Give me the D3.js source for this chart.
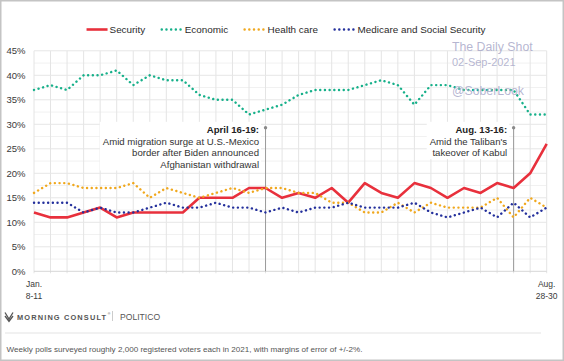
<!DOCTYPE html>
<html>
<head>
<meta charset="utf-8">
<script src="https://cdn.jsdelivr.net/npm/d3@7"></script>
<style>
  html, body { margin: 0; padding: 0; background: #fff; }
  svg { display: block; font-family: "Liberation Sans", Arial, sans-serif; }
</style>
</head>
<body>
<svg id="chart" width="564" height="361"></svg>
<script>
// ---------- data ----------
const weekIndex = d3.range(32); // weekly polls, Jan. 8-11 ... Aug. 28-30
const xTickLabels = [["Jan.", "8-11"], ["Aug.", "28-30"]];
const yTicks = [0, 5, 10, 15, 20, 25, 30, 35, 40, 45];
const seriesNames = ["Security", "Economic", "Health care", "Medicare and Social Security"];
const security = [12,11,11,12,13,11,12,12,12,12,15,15,15,17,17,15,16,15,17,14,18,16,15,18,17,15,17,16,18,17,20,26];
const economic = [37,38,37,40,40,41,38,40,39,39,36,35,35,32,33,34,36,37,37,37,38,39,38,34,38,38,37,37,37,37,32,32];
const healthCare = [16,18,18,17,17,17,18,15,17,16,15,16,17,16,17,17,16,16,14,14,12,12,14,12,14,13,13,13,15,11,15,13];
const medicare = [14,14,14,12,13,12,12,13,14,13,13,14,13,13,12,13,12,13,13,14,13,13,13,14,12,11,12,13,11,14,11,13];
const annotations = [
  { index: 14, head: "April 16-19:", lines: ["Amid migration surge at U.S.-Mexico", "border after Biden announced", "Afghanistan withdrawal"] },
  { index: 29, head: "Aug. 13-16:", lines: ["Amid the Taliban's", "takeover of Kabul"] }
];
const footnote = "Weekly polls surveyed roughly 2,000 registered voters each in 2021, with margins of error of +/-2%.";

// ---------- setup ----------
const W = 564, H = 361;
const svg = d3.select("#chart");
const colors = ["#e8303c", "#17b08a", "#f0a81e", "#24309c"];

// frame
svg.append("rect").attr("x", 0.75).attr("y", 0.75).attr("width", W - 1.5).attr("height", H - 1.5)
  .attr("fill", "#fff").attr("stroke", "#c4c4c4").attr("stroke-width", 1.5);

const x = d3.scaleLinear().domain([0, weekIndex.length - 1]).range([34, 546.7]);
const y = d3.scaleLinear().domain([0, 45]).range([271.3, 50.8]);

// grid
const grid = svg.append("g");
grid.selectAll(".minor").data(d3.range(2.5, 45, 5)).join("line")
  .attr("x1", x(0)).attr("x2", x(31)).attr("y1", d => y(d)).attr("y2", d => y(d))
  .attr("stroke", "#f1f1f1").attr("stroke-width", 1);
grid.selectAll(".v").data(weekIndex).join("line")
  .attr("x1", d => x(d)).attr("x2", d => x(d)).attr("y1", y(45)).attr("y2", y(0) + 2)
  .attr("stroke", "#e4e4e4").attr("stroke-width", 1);
grid.selectAll(".h").data(yTicks).join("line")
  .attr("x1", x(0)).attr("x2", x(31)).attr("y1", d => y(d)).attr("y2", d => y(d))
  .attr("stroke", d => d === 0 ? "#d6d6d6" : "#e6e6e6").attr("stroke-width", 1);

// y axis labels
const yAxis = d3.axisLeft(y).tickValues(yTicks).tickFormat(d => d + "%").tickSize(0).tickPadding(0);
const yg = svg.append("g").attr("transform", "translate(25.5,0)").call(yAxis);
yg.select(".domain").remove();
yg.selectAll("text").attr("font-size", 9.5).attr("fill", "#3a3a3a")
  .attr("font-family", "'Liberation Sans', Arial, sans-serif");

// x labels
const xl = svg.append("g").attr("font-size", 8.5).attr("fill", "#3a3a3a").attr("text-anchor", "middle");
[[0, xTickLabels[0]], [31, xTickLabels[1]]].forEach(([i, lab]) => {
  xl.append("text").attr("x", x(i)).attr("y", 287).text(lab[0]);
  xl.append("text").attr("x", x(i)).attr("y", 298.5).text(lab[1]);
});

// annotations
annotations.forEach(a => {
  const ax = x(a.index);
  const g = svg.append("g");
  const right = ax - 6.5;
  const tg = g.append("g").attr("font-size", 9.6).attr("fill", "#333").attr("text-anchor", "end");
  tg.append("text").attr("x", right).attr("y", 132.8).attr("font-weight", "bold").attr("fill", "#222").text(a.head);
  a.lines.forEach((t, k) => tg.append("text").attr("x", right).attr("y", 144.5 + k * 11.5).text(t));
  const bb = tg.node().getBBox();
  g.insert("rect", ":first-child").attr("x", bb.x - 3).attr("y", bb.y - 2)
    .attr("width", bb.width + 5).attr("height", bb.height + 3).attr("fill", "#fff");
  g.append("line").attr("x1", ax).attr("x2", ax).attr("y1", 127.7).attr("y2", y(0))
    .attr("stroke", "#9a9a9a").attr("stroke-width", 1);
  g.append("circle").attr("cx", ax).attr("cy", 127.7).attr("r", 1.7).attr("fill", "#8a8a8a");
});

// lines
const line = d3.line().x((d, i) => x(weekIndex[i])).y(d => y(d));
svg.append("path").datum(security).attr("d", line).attr("fill", "none")
  .attr("stroke", colors[0]).attr("stroke-width", 2.6).attr("stroke-linejoin", "round");
[[economic, colors[1]], [healthCare, colors[2]], [medicare, colors[3]]].forEach(([data, c]) => {
  svg.append("path").datum(data).attr("d", line).attr("fill", "none")
    .attr("stroke", c).attr("stroke-width", 2.4).attr("stroke-linecap", "round")
    .attr("stroke-dasharray", "0.1 4.6");
});

// legend
const lg = svg.append("g").attr("font-size", 9.9).attr("fill", "#2a2a2a");
let lx = 0;
seriesNames.forEach((n, i) => {
  const g = lg.append("g").attr("transform", `translate(${lx},0)`);
  const ln = g.append("line").attr("x1", 0).attr("x2", 21).attr("y1", 29.5).attr("y2", 29.5)
    .attr("stroke", colors[i]);
  if (i === 0) ln.attr("stroke-width", 2.6);
  else ln.attr("stroke-width", 2.4).attr("stroke-linecap", "round").attr("stroke-dasharray", "0.1 4.6");
  const t = g.append("text").attr("x", 23).attr("y", 33).text(n);
  lx += 23 + t.node().getComputedTextLength() + 16.5;
});
const lgW = lx - 16.5;
lg.attr("transform", `translate(${286 - lgW / 2},0)`);

// watermark
const wm = svg.append("g").attr("fill", "#a9a9c9").attr("fill-opacity", 0.85);
wm.append("text").attr("x", 452).attr("y", 50.5).attr("font-size", 12.3).text("The Daily Shot");
wm.append("text").attr("x", 452).attr("y", 66).attr("font-size", 11).text("02-Sep-2021");
wm.append("text").attr("x", 452).attr("y", 95).attr("font-size", 12.3).text("@SoberLook");

// source logos
const src = svg.append("g").attr("fill", "#555");
src.append("path").attr("d", "M5,312.5 L9,319 L13,312.5 M5,316 L9,321.5 L13,316")
  .attr("fill", "none").attr("stroke", "#555").attr("stroke-width", 1.3);
const mc = src.append("text").attr("x", 17).attr("y", 320).attr("font-size", 7.4).attr("font-weight", "bold")
  .attr("letter-spacing", 1.15).text("MORNING CONSULT");
const mcEnd = 17 + mc.node().getComputedTextLength();
src.append("text").attr("x", mcEnd + 0.5).attr("y", 314.5).attr("font-size", 3.5).text("®");
src.append("line").attr("x1", 112.5).attr("x2", 112.5).attr("y1", 311).attr("y2", 321)
  .attr("stroke", "#ccc").attr("stroke-width", 1);
src.append("text").attr("x", 120).attr("y", 320).attr("font-size", 8.6).attr("fill", "#555").text("POLITICO");

// separator and footnote
svg.append("line").attr("x1", 5).attr("x2", 541).attr("y1", 333).attr("y2", 333)
  .attr("stroke", "#e3e3e3").attr("stroke-width", 1);
svg.append("text").attr("x", 6.5).attr("y", 352).attr("font-size", 8.1).attr("fill", "#555").text(footnote);
</script>
</body>
</html>
